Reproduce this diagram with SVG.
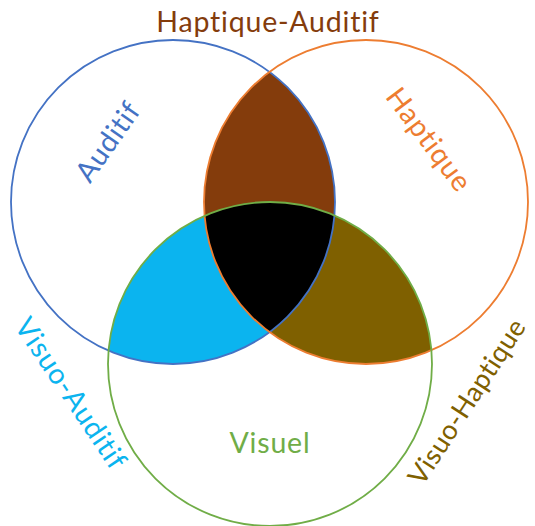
<svg xmlns="http://www.w3.org/2000/svg" width="535" height="526" viewBox="0 0 535 526">
<style>
.lbl{font-family:Lato,"Open Sans",sans-serif;font-size:28.5px;letter-spacing:0.8px;text-anchor:middle;dominant-baseline:central}
.ring{fill:none;stroke-width:1.8}
</style>
<defs>
<clipPath id="cB"><circle cx="173" cy="202" r="162"/></clipPath>
<clipPath id="cO"><circle cx="366" cy="202" r="162"/></clipPath>
<clipPath id="cG"><circle cx="270" cy="364" r="162"/></clipPath>
</defs>
<rect width="535" height="526" fill="#fff"/>
<g id="regions">
<g clip-path="url(#cB)"><circle cx="366" cy="202" r="162" fill="#843C0C"/></g>
<g clip-path="url(#cB)"><circle cx="270" cy="364" r="162" fill="#0BB4EF"/></g>
<g clip-path="url(#cO)"><circle cx="270" cy="364" r="162" fill="#7F6000"/></g>
<g clip-path="url(#cB)"><g clip-path="url(#cO)"><circle cx="270" cy="364" r="162" fill="#000"/></g></g>
</g>
<g id="auditif"><circle class="ring" cx="173" cy="202" r="162" stroke="#4472C4"/>
<text class="lbl" fill="#4472C4" transform="translate(107,141) rotate(-55)">Auditif</text></g>
<g id="haptique"><circle class="ring" cx="366" cy="202" r="162" stroke="#ED7D31"/>
<text class="lbl" fill="#ED7D31" transform="translate(430,139) rotate(53)">Haptique</text></g>
<g id="visuel"><circle class="ring" cx="270" cy="364" r="162" stroke="#70AD47"/>
<text class="lbl" fill="#70AD47" x="270" y="442">Visuel</text></g>
<g id="haptique-auditif"><text class="lbl" fill="#843C0C" x="268" y="21">Haptique-Auditif</text></g>
<g id="visuo-auditif"><text class="lbl" fill="#0BB4EF" transform="translate(72,393) rotate(56)">Visuo-Auditif</text></g>
<g id="visuo-haptique"><text class="lbl" fill="#7F6000" style="font-size:27px;letter-spacing:0.4px" transform="translate(466,401) rotate(-57)">Visuo-Haptique</text></g>
<g id="connectors"/>
</svg>
